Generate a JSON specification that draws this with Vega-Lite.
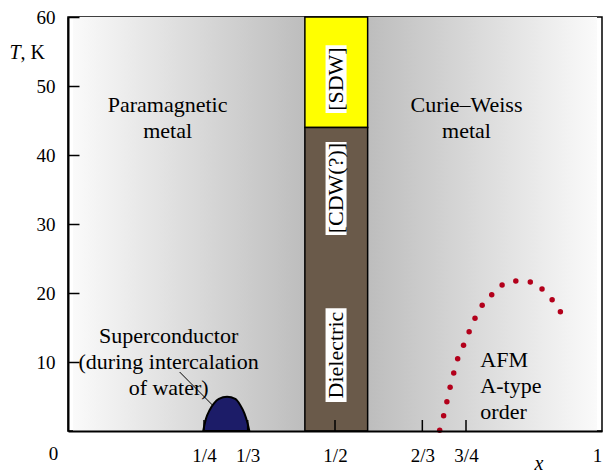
{
  "$schema": "https://vega.github.io/schema/vega-lite/v6.json",
  "width": 534,
  "height": 414,
  "autosize": {"type": "none"},
  "padding": {"left": 68, "top": 17, "right": 3, "bottom": 42},
  "background": "white",
  "config": {
    "view": {"stroke": "black", "strokeWidth": 1.5},
    "text": {"font": "Liberation Serif", "fontSize": 22, "color": "black"}
  },
  "datasets": {
    "metal": [
      {"region": "Paramagnetic metal", "x0": 0, "x1": 0.4425, "T0": 0, "T1": 60},
      {"region": "Curie–Weiss metal", "x0": 0.5623, "x1": 1, "T0": 0, "T1": 60}
    ],
    "bands": [
      {"phase": "SDW", "x0": 0.4425, "x1": 0.5623, "T0": 44, "T1": 60},
      {"phase": "Dielectric", "x0": 0.4425, "x1": 0.5623, "T0": 0, "T1": 44}
    ],
    "bandLabels": [
      {"label": "[SDW]", "x": 0.502, "T": 51.0, "T0": 46.1, "T1": 55.9},
      {"label": "[CDW(?)]", "x": 0.502, "T": 35.2, "T0": 28.4, "T1": 41.9},
      {"label": "Dielectric", "x": 0.502, "T": 11.0, "T0": 4.2, "T1": 17.8}
    ],
    "superconductor": [
      {"x": 0.2485, "T": 0},
      {"x": 0.2534, "T": 1.7},
      {"x": 0.2609, "T": 3.05},
      {"x": 0.2691, "T": 4.0},
      {"x": 0.2784, "T": 4.65},
      {"x": 0.294, "T": 4.97},
      {"x": 0.3096, "T": 4.64},
      {"x": 0.319, "T": 3.77},
      {"x": 0.3271, "T": 2.56},
      {"x": 0.3333, "T": 1.1},
      {"x": 0.3365, "T": 0}
    ],
    "leader": [
      {"x": 0.2035, "T": 8.55, "x2": 0.266, "T2": 3.77}
    ],
    "afm": [
      {"x": 0.6998, "T": 0.1},
      {"x": 0.7073, "T": 2.22},
      {"x": 0.7135, "T": 4.25},
      {"x": 0.7197, "T": 6.33},
      {"x": 0.7266, "T": 8.41},
      {"x": 0.7341, "T": 10.48},
      {"x": 0.7453, "T": 12.42},
      {"x": 0.756, "T": 14.39},
      {"x": 0.7672, "T": 16.33},
      {"x": 0.7809, "T": 18.22},
      {"x": 0.7991, "T": 19.75},
      {"x": 0.8189, "T": 21.16},
      {"x": 0.8451, "T": 21.74},
      {"x": 0.8727, "T": 21.59},
      {"x": 0.8951, "T": 20.58},
      {"x": 0.9144, "T": 19.03},
      {"x": 0.9301, "T": 17.29}
    ],
    "xTicks": [
      {"x": 0.25, "T": 0},
      {"x": 0.3333333, "T": 0},
      {"x": 0.5, "T": 0},
      {"x": 0.6666667, "T": 0},
      {"x": 0.75, "T": 0}
    ],
    "regionLabels": [
      {"label": "Paramagnetic\nmetal", "x": 0.1805, "T": 47.2},
      {"label": "Curie–Weiss\nmetal", "x": 0.751, "T": 47.2},
      {"label": "Superconductor\n(during intercalation\nof water)", "x": 0.1825, "T": 13.8}
    ],
    "afmLabel": [
      {"label": "AFM\nA-type\norder", "x": 0.7774, "T": 10.36}
    ],
    "axisTitles": [
      {"part": "T", "x": -0.1, "T": 54.8},
      {"part": ", K", "x": -0.1, "T": 54.8}
    ],
    "origin": [
      {"label": "0", "x": -0.037, "T": -3.4}
    ],
    "xTitle": [
      {"label": "x", "x": 0.889, "T": -4.8}
    ]
  },
  "layer": [
    {
      "data": {"name": "metal"},
      "transform": [{"filter": "datum.x0 == 0"}],
      "mark": {
        "type": "rect",
        "color": {
          "gradient": "linear", "x1": 0, "y1": 0, "x2": 1, "y2": 0,
          "stops": [
            {"offset": 0, "color": "#fafafa"},
            {"offset": 1, "color": "#bdbdbd"}
          ]
        }
      },
      "encoding": {
        "x": {
          "field": "x0", "type": "quantitative",
          "scale": {"domain": [0, 1], "nice": false, "zero": false},
          "axis": {
            "title": null,
            "grid": false,
            "zindex": 1,
            "ticks": false,
            "values": [0.25, 0.3333333, 0.5, 0.6666667, 0.75, 1],
            "labelExpr": "datum.value == 1 ? '1' : abs(datum.value - 0.25) < 0.001 ? '1/4' : abs(datum.value - 0.3333333) < 0.001 ? '1/3' : abs(datum.value - 0.5) < 0.001 ? '1/2' : abs(datum.value - 0.6666667) < 0.001 ? '2/3' : '3/4'",
            "labelFont": "Liberation Serif",
            "labelFontSize": 19,
            "labelColor": "black",
            "labelFlush": false,
            "labelOverlap": false,
            "labelPadding": 15,
            "domainColor": "black",
            "domainWidth": 2
          }
        },
        "x2": {"field": "x1"},
        "y": {
          "field": "T0", "type": "quantitative",
          "scale": {"domain": [0, 60], "nice": false, "zero": false},
          "axis": {
            "title": null,
            "grid": false,
            "zindex": 1,
            "values": [10, 20, 30, 40, 50, 60],
            "labelFont": "Liberation Serif",
            "labelFontSize": 19,
            "labelColor": "black",
            "labelFlush": false,
            "labelOverlap": false,
            "labelPadding": 24,
            "tickSize": -11,
            "tickColor": "black",
            "tickWidth": 1.5,
            "domainColor": "black",
            "domainWidth": 2
          }
        },
        "y2": {"field": "T1"}
      }
    },
    {
      "data": {"name": "metal"},
      "transform": [{"filter": "datum.x0 > 0"}],
      "mark": {
        "type": "rect",
        "color": {
          "gradient": "linear", "x1": 0, "y1": 0, "x2": 1, "y2": 0,
          "stops": [
            {"offset": 0, "color": "#bdbdbd"},
            {"offset": 1, "color": "#fafafa"}
          ]
        }
      },
      "encoding": {
        "x": {"field": "x0", "type": "quantitative", "title": null},
        "x2": {"field": "x1"},
        "y": {"field": "T0", "type": "quantitative", "title": null},
        "y2": {"field": "T1"}
      }
    },
    {
      "data": {"name": "bands"},
      "mark": {"type": "rect", "stroke": "black", "strokeWidth": 1.5},
      "encoding": {
        "x": {"field": "x0", "type": "quantitative", "title": null},
        "x2": {"field": "x1"},
        "y": {"field": "T0", "type": "quantitative", "title": null},
        "y2": {"field": "T1"},
        "fill": {
          "field": "phase", "type": "nominal",
          "scale": {"domain": ["SDW", "Dielectric"], "range": ["#ffff00", "#6a5a4a"]},
          "legend": null
        }
      }
    },
    {
      "data": {"name": "bandLabels"},
      "mark": {"type": "bar", "color": "white", "width": 21},
      "encoding": {
        "x": {"field": "x", "type": "quantitative", "title": null},
        "y": {"field": "T0", "type": "quantitative", "title": null},
        "y2": {"field": "T1"}
      }
    },
    {
      "data": {"name": "bandLabels"},
      "mark": {"type": "text", "angle": 270, "align": "center", "baseline": "middle", "fontSize": 22},
      "encoding": {
        "x": {"field": "x", "type": "quantitative", "title": null},
        "y": {"field": "T", "type": "quantitative", "title": null},
        "text": {"field": "label", "type": "nominal"}
      }
    },
    {
      "data": {"name": "superconductor"},
      "mark": {"type": "area", "interpolate": "monotone", "color": "#1c1c68", "stroke": "black", "strokeWidth": 2, "opacity": 1},
      "encoding": {
        "x": {"field": "x", "type": "quantitative", "title": null},
        "y": {"field": "T", "type": "quantitative", "title": null}
      }
    },
    {
      "data": {"name": "xTicks"},
      "mark": {"type": "tick", "orient": "vertical", "size": 22, "thickness": 1.5, "color": "black", "opacity": 1, "clip": true},
      "encoding": {
        "x": {"field": "x", "type": "quantitative", "title": null},
        "y": {"field": "T", "type": "quantitative", "title": null}
      }
    },
    {
      "data": {"name": "leader"},
      "mark": {"type": "rule", "color": "black", "strokeWidth": 1},
      "encoding": {
        "x": {"field": "x", "type": "quantitative", "title": null},
        "y": {"field": "T", "type": "quantitative", "title": null},
        "x2": {"field": "x2"},
        "y2": {"field": "T2"}
      }
    },
    {
      "data": {"name": "afm"},
      "mark": {"type": "circle", "color": "#b3001b", "size": 30, "opacity": 1, "clip": false},
      "encoding": {
        "x": {"field": "x", "type": "quantitative", "title": null},
        "y": {"field": "T", "type": "quantitative", "title": null}
      }
    },
    {
      "data": {"name": "regionLabels"},
      "mark": {"type": "text", "align": "center", "baseline": "middle", "lineBreak": "\n", "lineHeight": 26, "fontSize": 22},
      "encoding": {
        "x": {"field": "x", "type": "quantitative", "title": null},
        "y": {"field": "T", "type": "quantitative", "title": null},
        "text": {"field": "label", "type": "nominal"}
      }
    },
    {
      "data": {"name": "afmLabel"},
      "mark": {"type": "text", "align": "left", "baseline": "middle", "lineBreak": "\n", "lineHeight": 26, "fontSize": 22},
      "encoding": {
        "x": {"field": "x", "type": "quantitative", "title": null},
        "y": {"field": "T", "type": "quantitative", "title": null},
        "text": {"field": "label", "type": "nominal"}
      }
    },
    {
      "data": {"name": "axisTitles"},
      "transform": [{"filter": "datum.part == 'T'"}],
      "mark": {"type": "text", "align": "right", "baseline": "middle", "fontStyle": "italic", "fontSize": 20, "clip": false},
      "encoding": {
        "x": {"field": "x", "type": "quantitative", "title": null},
        "y": {"field": "T", "type": "quantitative", "title": null},
        "text": {"field": "part", "type": "nominal"}
      }
    },
    {
      "data": {"name": "axisTitles"},
      "transform": [{"filter": "datum.part != 'T'"}],
      "mark": {"type": "text", "align": "left", "baseline": "middle", "fontSize": 20, "clip": false},
      "encoding": {
        "x": {"field": "x", "type": "quantitative", "title": null},
        "y": {"field": "T", "type": "quantitative", "title": null},
        "text": {"field": "part", "type": "nominal"}
      }
    },
    {
      "data": {"name": "origin"},
      "mark": {"type": "text", "align": "center", "baseline": "middle", "fontSize": 19, "clip": false},
      "encoding": {
        "x": {"field": "x", "type": "quantitative", "title": null},
        "y": {"field": "T", "type": "quantitative", "title": null},
        "text": {"field": "label", "type": "nominal"}
      }
    },
    {
      "data": {"name": "xTitle"},
      "mark": {"type": "text", "align": "center", "baseline": "middle", "fontStyle": "italic", "fontSize": 20, "clip": false},
      "encoding": {
        "x": {"field": "x", "type": "quantitative", "title": null},
        "y": {"field": "T", "type": "quantitative", "title": null},
        "text": {"field": "label", "type": "nominal"}
      }
    }
  ]
}
